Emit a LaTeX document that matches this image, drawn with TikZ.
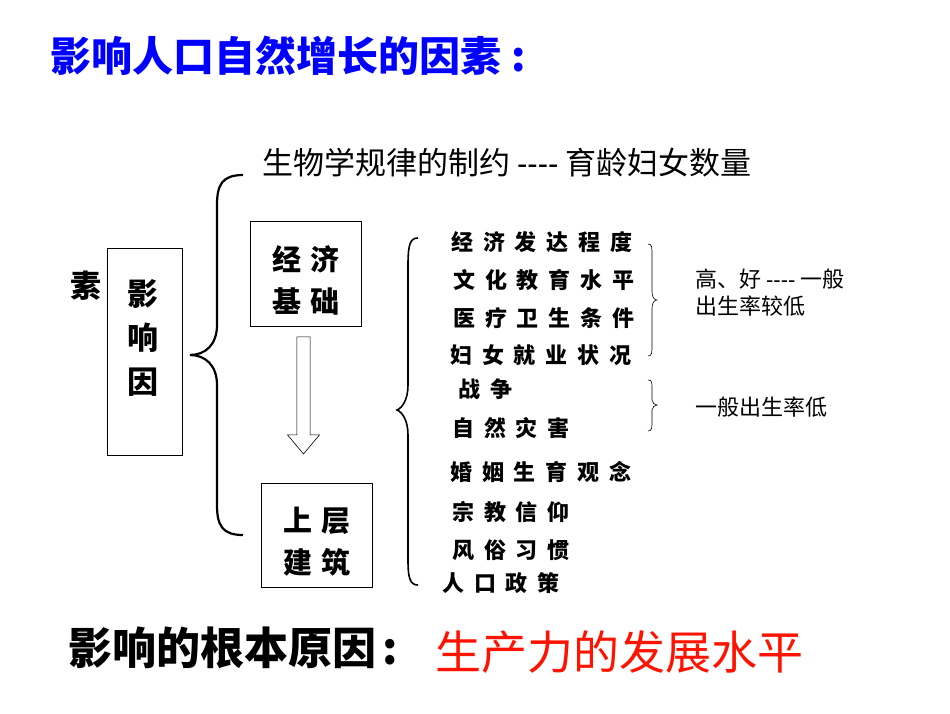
\documentclass[tikz,border=0pt]{standalone}
\usepackage{fontspec}
\setmainfont{Liberation Sans}
\newfontfamily\cjk{Noto Sans CJK SC}
\newfontfamily\cjks{Noto Sans CJK SC}[LetterSpace=45]
\newfontfamily\cjkm{Noto Sans CJK SC}[LetterSpace=30]
\usetikzlibrary{shapes.arrows}
\begin{document}
\begin{tikzpicture}[x=1pt,y=-1pt,
  box/.style={draw,line width=0.8pt},
  item/.style={anchor=west,inner sep=0pt,font=\cjks\bfseries\fontsize{22}{22}\selectfont},
  note/.style={anchor=west,inner sep=0pt,font=\cjk\fontsize{22}{27}\selectfont,align=left},
  brace/.style={line width=2.2pt},
  sbrace/.style={line width=0.6pt}]
\useasboundingbox (0,0) rectangle (950,713);
\node[anchor=west,inner sep=0pt,text=blue,font=\cjk\bfseries\fontsize{41}{41}\selectfont] (title) at (50,56) {影响人口自然增长的因素\hspace{10pt}:};
\node[anchor=west,inner sep=0pt,font=\cjk\fontsize{31}{31}\selectfont] (bio) at (262,163) {生物学规律的制约 \fontspec{Liberation Sans}----\cjk{} 育龄妇女数量};
% left box
\node[box,minimum width=75pt,minimum height=207pt] (yx) at (144.5,351.5) {};
\node[font=\cjk\bfseries\fontsize{31}{31}\selectfont,align=center,inner sep=0pt] (yxt) at (143,338) {影\\[13pt]响\\[13pt]因};
\node[font=\cjk\bfseries\fontsize{31}{31}\selectfont,inner sep=0pt] (su) at (86,286) {素};
% boxes
\node[box,minimum width=111pt,minimum height=105pt] (jj) at (305.5,273.5) {};
\node[font=\cjkm\bfseries\fontsize{29}{29}\selectfont,align=center,inner sep=0pt] (jjt) at (306,280) {经济\\[13pt]基础};
\node[box,minimum width=111pt,minimum height=104pt] (sc) at (316.5,535) {};
\node[font=\cjkm\bfseries\fontsize{29}{29}\selectfont,align=center,inner sep=0pt] (sct) at (317,542) {上层\\[13pt]建筑};
\node[draw,line width=0.6pt,single arrow,shape border rotate=270,minimum width=32pt,single arrow head extend=9pt,minimum height=117pt,single arrow tip angle=80,inner sep=6pt] (arr) at (303.5,391.5) {};
% big braces
\coordinate (b1t) at (243,175); \coordinate (b1b) at (243,535); \coordinate (b1m) at (190,355);
\draw[brace] (b1t) .. controls (222,175) and (217,185) .. (217,205) -- (217,325) .. controls (217,345) and (205,355) .. (b1m) .. controls (205,355) and (217,365) .. (217,385) -- (217,505) .. controls (217,525) and (222,535) .. (b1b);
\coordinate (b2t) at (418,238); \coordinate (b2b) at (418,585); \coordinate (b2m) at (397,410);
\draw[line width=1.6pt] (b2t) .. controls (410,238) and (408,245) .. (408,265) -- (408,385) .. controls (408,400) and (402,408) .. (b2m) .. controls (402,412) and (408,420) .. (408,435) -- (408,560) .. controls (408,578) and (410,585) .. (b2b);
% small braces
\coordinate (s1t) at (648,244); \coordinate (s1b) at (648,356);
\draw[sbrace] (s1t) .. controls (652,244) and (652,247) .. (652,255) -- (652,292) .. controls (652,298) and (655,300) .. (657,300) .. controls (655,300) and (652,302) .. (652,308) -- (652,345) .. controls (652,353) and (652,356) .. (s1b);
\coordinate (s2t) at (648,380); \coordinate (s2b) at (648,431);
\draw[sbrace] (s2t) .. controls (652,380) and (652,382) .. (652,390) -- (652,400) .. controls (652,403) and (655,405) .. (657,405) .. controls (655,405) and (652,407) .. (652,410) -- (652,421) .. controls (652,428) and (652,431) .. (s2b);
% items
\node[item] (i1) at (451,242) {经济发达程度};
\node[item] (i2) at (453,280) {文化教育水平};
\node[item] (i3) at (453,318) {医疗卫生条件};
\node[item] (i4) at (450,355) {妇女就业状况};
\node[item] (i5) at (458,389) {战争};
\node[item] (i6) at (452,428) {自然灾害};
\node[item] (i7) at (450,472) {婚姻生育观念};
\node[item] (i8) at (452,512) {宗教信仰};
\node[item] (i9) at (452,550) {风俗习惯};
\node[item] (i10) at (442,583) {人口政策};
\node[note] (n1) at (695,293) {高、好 \fontspec{Liberation Sans}----\cjk{} 一般\\出生率较低};
\node[note] (n2) at (695,407) {一般出生率低};
\node[anchor=west,inner sep=0pt,font=\cjk\bfseries\fontsize{44}{44}\selectfont] (gen) at (68,648) {影响的根本原因\hspace{6pt}:};
\node[anchor=west,inner sep=0pt,text=red!85!orange,font=\cjk\fontsize{46}{46}\selectfont] (sc2) at (435,652) {生产力的发展水平};
\end{tikzpicture}
\end{document}
